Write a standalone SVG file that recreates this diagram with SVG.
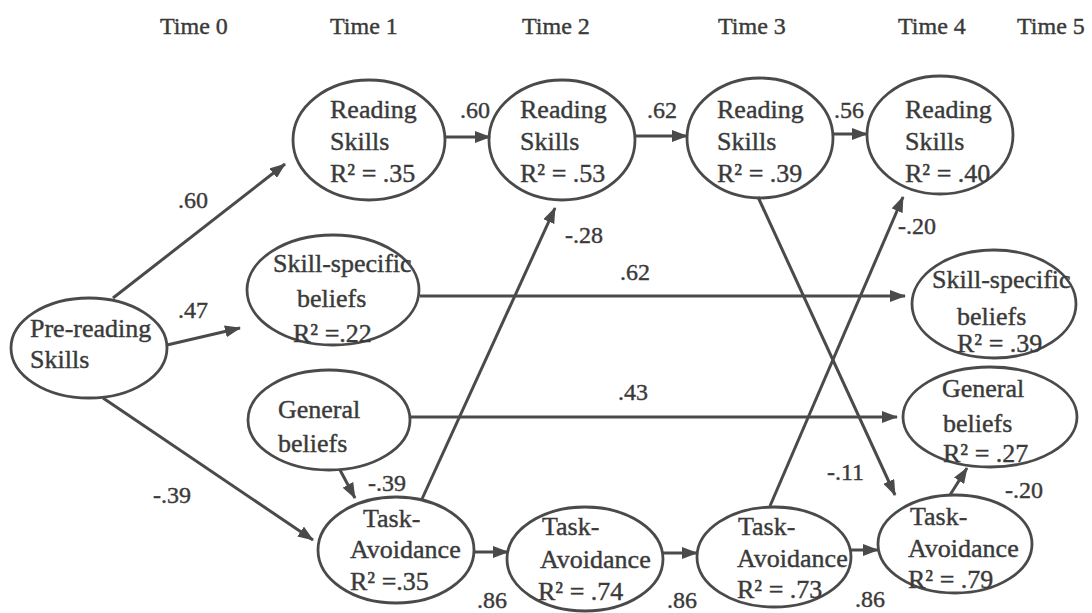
<svg xmlns="http://www.w3.org/2000/svg" width="1092" height="613" viewBox="0 0 1092 613">
<defs>
<marker id="ah" viewBox="0 0 16 12" refX="15" refY="6" markerWidth="5.33" markerHeight="4" markerUnits="strokeWidth" orient="auto">
<path d="M0,0 L16,6 L0,12 z" fill="#4a4a4a"/>
</marker>
</defs>
<style>
text{font-family:"Liberation Serif","Times New Roman",serif;font-size:26px;fill:#3a3a3a;stroke:#3a3a3a;stroke-width:0.4}
.time{font-size:24px}
.lab{font-size:24px}
ellipse{fill:none;stroke:#4a4a4a;stroke-width:2.8}
.c line{stroke:#4a4a4a;stroke-width:3;marker-end:url(#ah)}
</style>
<rect width="1092" height="613" fill="#fff"/>
<g id="times">
<text class="time" x="160" y="34">Time 0</text>
<text class="time" x="330" y="34">Time 1</text>
<text class="time" x="522" y="34">Time 2</text>
<text class="time" x="718" y="34">Time 3</text>
<text class="time" x="898" y="34">Time 4</text>
<text class="time" x="1017" y="34">Time 5</text>
</g>
<g class="c" id="connectors">
<line x1="113" y1="298" x2="285" y2="164"/>
<line x1="167" y1="345" x2="240" y2="328"/>
<line x1="103" y1="398" x2="313" y2="540"/>
<line x1="340" y1="470" x2="355" y2="498"/>
<line x1="420" y1="296" x2="905" y2="296"/>
<line x1="410" y1="417" x2="897" y2="417"/>
<line x1="445" y1="137" x2="490" y2="137"/>
<line x1="635" y1="136" x2="687" y2="136"/>
<line x1="833" y1="134" x2="867" y2="134"/>
<line x1="422" y1="499" x2="555" y2="208"/>
<line x1="770" y1="506" x2="903" y2="197"/>
<line x1="758" y1="197" x2="895" y2="495"/>
<line x1="950" y1="495" x2="967" y2="468"/>
<line x1="474" y1="552" x2="508" y2="552"/>
<line x1="663" y1="553" x2="697" y2="553"/>
<line x1="851" y1="550" x2="878" y2="550"/>
</g>
<g id="labels">
<text class="lab" x="178" y="208">.60</text>
<text class="lab" x="178" y="318">.47</text>
<text class="lab" x="153" y="503">-.39</text>
<text class="lab" x="368" y="491">-.39</text>
<text class="lab" x="460" y="118">.60</text>
<text class="lab" x="647" y="118">.62</text>
<text class="lab" x="834" y="118">.56</text>
<text class="lab" x="565" y="243">-.28</text>
<text class="lab" x="898" y="234">-.20</text>
<text class="lab" x="620" y="280">.62</text>
<text class="lab" x="618" y="400">.43</text>
<text class="lab" x="827" y="480">-.11</text>
<text class="lab" x="1005" y="498">-.20</text>
<text class="lab" x="477" y="608">.86</text>
<text class="lab" x="667" y="608">.86</text>
<text class="lab" x="855" y="607">.86</text>
</g>
<g id="pre">
<ellipse cx="89" cy="348" rx="78" ry="50"/>
<text x="30" y="337">Pre-reading</text>
<text x="30" y="368">Skills</text>
</g>
<g id="rs1">
<ellipse cx="369" cy="140" rx="76" ry="60"/>
<text x="330" y="118">Reading</text>
<text x="330" y="150">Skills</text>
<text x="330" y="182">R² = .35</text>
</g>
<g id="rs2">
<ellipse cx="562" cy="140" rx="73" ry="60"/>
<text x="520" y="118">Reading</text>
<text x="520" y="150">Skills</text>
<text x="520" y="182">R² = .53</text>
</g>
<g id="rs3">
<ellipse cx="760" cy="138" rx="73" ry="60"/>
<text x="717" y="118">Reading</text>
<text x="717" y="150">Skills</text>
<text x="717" y="182">R² = .39</text>
</g>
<g id="rs4">
<ellipse cx="940" cy="135" rx="73" ry="59"/>
<text x="905" y="118">Reading</text>
<text x="905" y="150">Skills</text>
<text x="905" y="182">R² = .40</text>
</g>
<g id="ssb1">
<ellipse cx="333" cy="290" rx="86" ry="55"/>
<text x="273" y="272">Skill-specific</text>
<text x="297" y="307">beliefs</text>
<text x="293" y="342">R² =.22</text>
</g>
<g id="ssb5">
<ellipse cx="994" cy="304" rx="82" ry="54"/>
<text x="932" y="288">Skill-specific</text>
<text x="957" y="325">beliefs</text>
<text x="957" y="352">R² = .39</text>
</g>
<g id="gb1">
<ellipse cx="329" cy="420" rx="81" ry="50"/>
<text x="278" y="418">General</text>
<text x="278" y="452">beliefs</text>
</g>
<g id="gb5">
<ellipse cx="990" cy="417" rx="87" ry="50"/>
<text x="942" y="397">General</text>
<text x="943" y="432">beliefs</text>
<text x="943" y="462">R² = .27</text>
</g>
<g id="ta1">
<ellipse cx="396" cy="550" rx="78" ry="53"/>
<text x="363" y="527">Task-</text>
<text x="350" y="558">Avoidance</text>
<text x="350" y="590">R² =.35</text>
</g>
<g id="ta2">
<ellipse cx="585" cy="559" rx="78" ry="52"/>
<text x="542" y="535">Task-</text>
<text x="540" y="568">Avoidance</text>
<text x="538" y="600">R² = .74</text>
</g>
<g id="ta3">
<ellipse cx="774" cy="557" rx="77" ry="50"/>
<text x="738" y="535">Task-</text>
<text x="737" y="567">Avoidance</text>
<text x="737" y="598">R² = .73</text>
</g>
<g id="ta5">
<ellipse cx="955" cy="544" rx="77" ry="49"/>
<text x="910" y="525">Task-</text>
<text x="908" y="557">Avoidance</text>
<text x="908" y="588">R² = .79</text>
</g>
</svg>
